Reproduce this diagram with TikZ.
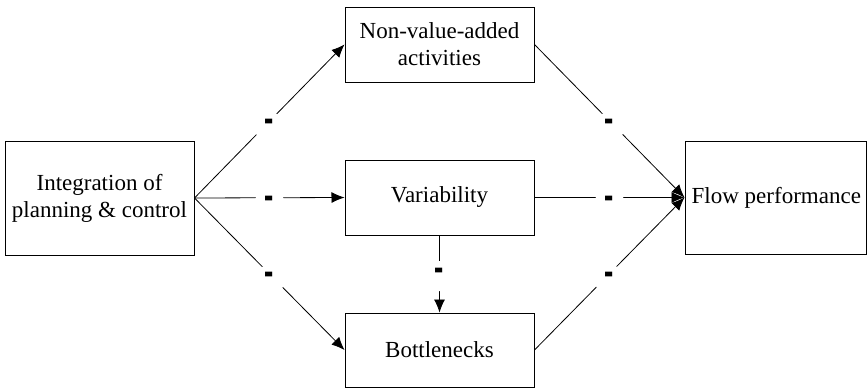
\documentclass[tikz,border=0pt]{standalone}
\usepackage{fontspec}
\setmainfont{Liberation Serif}
\usetikzlibrary{arrows.meta}

\begin{document}
\begin{tikzpicture}[x=1pt,y=-1pt,
  box/.style={draw,line width=1pt,inner sep=0pt,align=center,font=\fontsize{23}{27}\selectfont},
  link/.style={line width=0.8pt,-{Latex[length=13pt,width=11pt]}},
  neg/.style={circle,fill=white,inner sep=0pt,minimum size=30pt,yshift=-6pt,font=\fontsize{23}{27}\selectfont\bfseries}]
\useasboundingbox (0,0) rectangle (868,388);
\node[box,minimum width=189pt,minimum height=114pt] (integ) at (99.5,198) {Integration of\\planning \& control};
\node[box,minimum width=189pt,minimum height=75pt] (nva) at (439.5,44.5) {Non-value-added\\activities};
\node[box,minimum width=189pt,minimum height=75pt] (var) at (439.5,197.5) {Variability};
\node[box,minimum width=189pt,minimum height=74pt] (bott) at (439.5,350) {Bottlenecks};
\node[box,minimum width=181pt,minimum height=113pt] (flow) at (775.5,197.5) {};
\node[anchor=west,inner sep=0pt,font=\fontsize{23}{27}\selectfont] (flowtxt) at ([xshift=7pt]flow.west) {Flow performance};
% minus signs on every link
\draw[link] (integ.east) -- node[neg]{\scalebox{1.2}[2.4]{-}} (nva.west);
\draw[link] (integ.east) -- node[neg]{\scalebox{1.2}[2.4]{-}} (var.west);
\draw[link] (integ.east) -- node[neg]{\scalebox{1.2}[2.4]{-}} (bott.west);
\draw[link] (var.south) -- node[neg,pos=0.45]{\scalebox{1.2}[2.4]{-}} (bott.north);
\draw[link] (nva.east) -- node[neg]{\scalebox{1.2}[2.4]{-}} (flow.west);
\draw[link] (var.east) -- node[neg]{\scalebox{1.2}[2.4]{-}} (flow.west);
\draw[link] (bott.east) -- node[neg]{\scalebox{1.2}[2.4]{-}} (flow.west);
\end{tikzpicture}
\end{document}
